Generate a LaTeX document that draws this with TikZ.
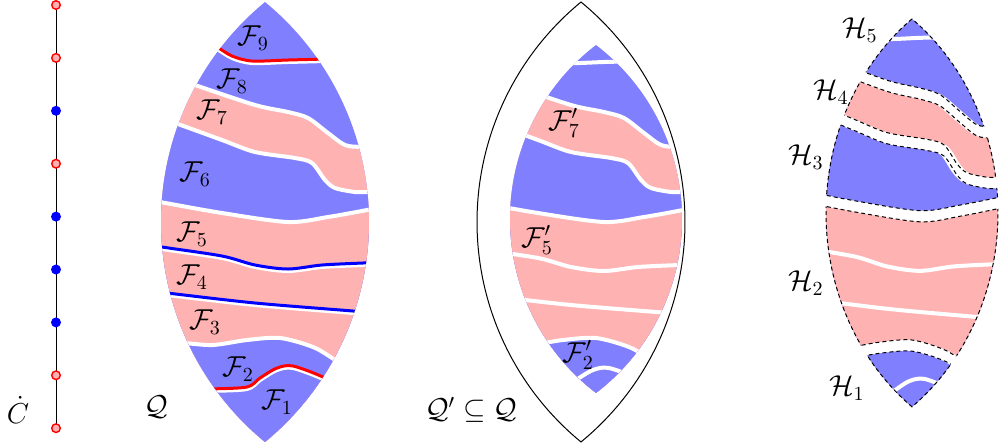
\documentclass[tikz,border=0pt]{standalone}
\usepackage{amsmath,amssymb}

% cuts through the lens, in pixel units (y downwards)
\newcommand{\cutA}{plot[smooth] coordinates {(190,38) (215,48) (232,58) (252,63) (288,62) (325,61) (350,60)}}
\newcommand{\cutB}{plot[smooth] coordinates {(170,76) (195,85) (255,105) (288,112) (308,118) (328,133) (345,145) (362,147) (390,148)}}
\newcommand{\cutC}{plot[smooth] coordinates {(150,115) (175,123) (222,140) (255,152) (295,158) (312,163) (325,180) (335,188) (355,192) (368,192) (390,192)}}
\newcommand{\cutD}{plot[smooth] coordinates {(140,198) (160,202) (222,213) (288,222) (328,217) (367,210) (390,205)}}
\newcommand{\cutE}{plot[smooth] coordinates {(140,245) (162,249) (222,258) (255,267) (288,271) (322,267) (363,265) (390,264)}}
\newcommand{\cutF}{plot[smooth] coordinates {(140,292) (167,295) (255,305) (353,313) (390,316)}}
\newcommand{\cutG}{plot[smooth] coordinates {(160,343) (183,343) (213,345) (247,340) (280,338) (313,347) (335,360) (360,378)}}
\newcommand{\cutH}{plot[smooth] coordinates {(190,392) (210,391) (247,389) (260,380) (277,370) (293,368) (323,379) (345,392)}}

% the two lenses
\newcommand{\lensQ}{(265,2) arc[start angle=230.6,end angle=129.4,radius=284.7]
  arc[start angle=50.6,end angle=-50.6,radius=284.7] -- cycle}
\newcommand{\lensP}{(280,45) arc[start angle=232.6,end angle=127.4,radius=219]
  arc[start angle=52.6,end angle=-52.6,radius=219] -- cycle}

\newcommand{\paintstrips}{%
  \fill[fb] (100,-50) rectangle (420,500);
  \fill[fp] \cutB -- (420,500) -- (100,500) -- cycle;
  \fill[fb] \cutC -- (420,500) -- (100,500) -- cycle;
  \fill[fp] \cutD -- (420,500) -- (100,500) -- cycle;
  \fill[fb] \cutG -- (420,500) -- (100,500) -- cycle;}

\begin{document}
\begin{tikzpicture}[x=0.5pt,y=-0.5pt,
  fb/.style={fill=blue!50},
  fp/.style={fill=red!30},
  cut/.style={white,line width=2pt},
  gapband/.style={white,line width=5.5pt},
  hl/.style={line width=1.5pt,shift={(0,-2)}},
  hdash/.style={line width=0.5pt,dash pattern=on 2pt off 1.5pt},
  lab/.style={font=\fontsize{14}{16}\selectfont,inner sep=1pt},
  opt/.style={circle,draw=red,fill=red!30,line width=0.7pt,
              minimum size=4.3pt,inner sep=0pt},
  bpt/.style={circle,fill=blue,minimum size=5pt,inner sep=0pt}]

  \useasboundingbox (0,0) rectangle (1002,446);

  % the curve C
  \foreach \i in {1,...,9}
    \coordinate (p\i) at (56,{5+52.9*(\i-1)});
  \draw[line width=0.5pt] (p1) -- (p9);
  \foreach \i/\s in {1/opt,2/opt,3/bpt,4/opt,5/bpt,6/bpt,7/bpt,8/opt,9/opt}
    \node[\s] (d\i) at (p\i) {};
  \node[lab] (Clab) at (18,410) {$\dot C$};

  % Q with its strips
  \begin{scope}
    \clip \lensQ;
    \paintstrips
    \draw[cut] \cutA; \draw[cut] \cutB; \draw[cut] \cutC; \draw[cut] \cutD;
    \draw[cut] \cutE; \draw[cut] \cutF; \draw[cut] \cutG; \draw[cut] \cutH;
    \draw[hl,red] \cutA; \draw[hl,red] \cutH;
    \draw[hl,blue] \cutE; \draw[hl,blue] \cutF;
  \end{scope}
  \node[lab] (F9) at (253,38) {$\mathcal{F}_9$};
  \node[lab] (F8) at (232,81) {$\mathcal{F}_8$};
  \node[lab] (F7) at (212,112) {$\mathcal{F}_7$};
  \node[lab] (F6) at (195,174) {$\mathcal{F}_6$};
  \node[lab] (F5) at (192,234) {$\mathcal{F}_5$};
  \node[lab] (F4) at (192,277) {$\mathcal{F}_4$};
  \node[lab] (F3) at (205,322) {$\mathcal{F}_3$};
  \node[lab] (F2) at (238,369) {$\mathcal{F}_2$};
  \node[lab] (F1) at (277,402) {$\mathcal{F}_1$};
  \node[lab] (Qlab) at (156,407) {$\mathcal{Q}$};

  % Q' inside Q
  \begin{scope}[shift={(316,0)}]
    \begin{scope}
      \clip \lensP;
      \paintstrips
      \draw[cut] \cutA; \draw[cut] \cutB; \draw[cut] \cutC; \draw[cut] \cutD;
      \draw[cut] \cutE; \draw[cut] \cutF; \draw[cut] \cutG; \draw[cut] \cutH;
    \end{scope}
    \draw[line width=0.5pt] \lensQ;
  \end{scope}
  \node[lab] (F7p) at (564,123) {$\mathcal{F}'_7$};
  \node[lab] (F5p) at (537,240) {$\mathcal{F}'_5$};
  \node[lab] (F2p) at (578,355) {$\mathcal{F}'_2$};
  \node[lab] (QPlab) at (471,410) {$\mathcal{Q}'\subseteq\mathcal{Q}$};

  % the pieces H
  \begin{scope}[shift={(632,-31.3)},yscale=1.115]
    \begin{scope}
      \clip \lensP;
      \paintstrips
      \draw[cut] \cutA; \draw[cut] \cutE; \draw[cut] \cutF; \draw[cut] \cutH;
    \end{scope}
    \draw[hdash] \lensP;
    \draw[gapband] \cutB; \draw[gapband] \cutC;
    \draw[gapband] \cutD; \draw[gapband] \cutG;
    \begin{scope}
      \clip \lensP;
      \foreach \s in {-5,5} {
        \draw[hdash,shift={(0,\s)}] \cutB;
        \draw[hdash,shift={(0,\s)}] \cutC;
        \draw[hdash,shift={(0,\s)}] \cutD;
        \draw[hdash,shift={(0,\s)}] \cutG;
      }
    \end{scope}
  \end{scope}
  \node[lab] (H5) at (860,30) {$\mathcal{H}_5$};
  \node[lab] (H4) at (831,92) {$\mathcal{H}_4$};
  \node[lab] (H3) at (806,157) {$\mathcal{H}_3$};
  \node[lab] (H2) at (806,283) {$\mathcal{H}_2$};
  \node[lab] (H1) at (847,388) {$\mathcal{H}_1$};
\end{tikzpicture}
\end{document}
